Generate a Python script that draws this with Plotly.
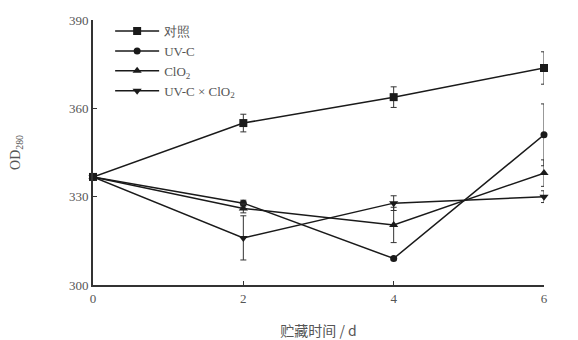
import plotly.graph_objects as go

days = [0, 2, 4, 6]
names = ["对照", "UV-C", "ClO<sub>2</sub>", "UV-C × ClO<sub>2</sub>"]
control = [336.7, 355.0, 363.8, 373.7]
control_err = [0, 3.0, 3.5, 5.5]
uvc = [336.7, 327.8, 309.0, 351.0]
uvc_err = [0, 1.0, 0.5, 10.5]
clo2 = [336.7, 326.0, 320.4, 338.0]
clo2_err = [0, 1.5, 6.0, 4.5]
combo = [336.7, 316.0, 327.8, 330.0]
combo_err = [0, 7.5, 2.5, 2.0]

series = [control, uvc, clo2, combo]
errs = [control_err, uvc_err, clo2_err, combo_err]
symbols = ["square", "circle", "triangle-up", "triangle-down"]
sizes = [8, 7, 8, 8]

fig = go.Figure()
for n, s, e, sym, sz in zip(names, series, errs, symbols, sizes):
    fig.add_trace(go.Scatter(
        x=days, y=s, name=n, mode="lines+markers",
        line=dict(color="#1a1a1a", width=1.5),
        marker=dict(symbol=sym, size=sz, color="#1a1a1a"),
        error_y=dict(type="data", array=e, visible=True, color="#333", thickness=1, width=3),
        cliponaxis=False,
    ))

fig.update_layout(
    width=578, height=340,
    margin=dict(l=85, r=42, t=12, b=63, autoexpand=False),
    paper_bgcolor="white", plot_bgcolor="white",
    font=dict(family="Liberation Serif, DejaVu Serif, serif", size=13, color="#555"),
    showlegend=True,
    legend=dict(x=0.038, y=1.015, xanchor="left", yanchor="top",
                bgcolor="rgba(0,0,0,0)", font=dict(size=13, color="#555"),
                tracegroupgap=0, itemwidth=44),
    xaxis=dict(range=[0, 6], tickvals=days, showline=True, linecolor="#333", linewidth=2,
               ticks="inside", ticklen=4, tickcolor="#333", showgrid=False, zeroline=False,
               automargin=False,
               title=dict(text="贮藏时间 / d", font=dict(family="Noto Sans CJK SC", size=14, color="#555"), standoff=22)),
    yaxis=dict(range=[300, 390], tickvals=[300, 330, 360, 390], showline=True, linecolor="#333", linewidth=2,
               ticks="inside", ticklen=4, tickcolor="#333", showgrid=False, zeroline=False,
               automargin=False,
               title=dict(text="OD<sub>280</sub>", font=dict(size=14, color="#555"), standoff=50)),
)

fig.write_html("out.html")
